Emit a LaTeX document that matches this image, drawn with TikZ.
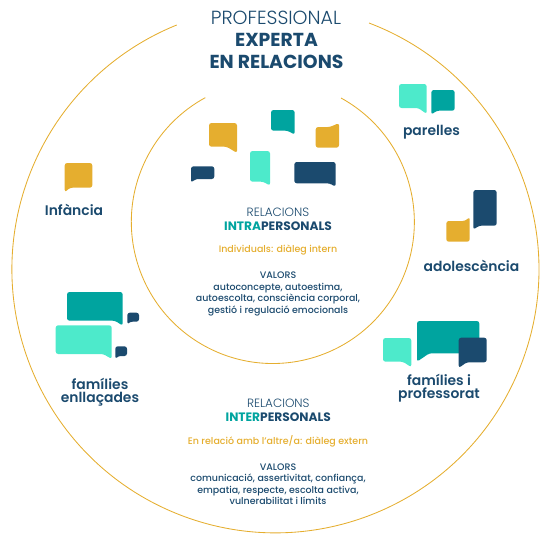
\documentclass[tikz,border=0pt]{standalone}
\usepackage{fontspec}
\setmainfont{Poppins}
\newfontfamily\lightfont{Poppins Light}
\newfontfamily\mediumfont{Poppins Medium}
\newfontfamily\semifont{Poppins SemiBold}
\definecolor{navy}{HTML}{1B4A6E}
\definecolor{teal}{HTML}{00A49F}
\definecolor{mint}{HTML}{4DEACB}
\definecolor{gold}{HTML}{E5AE2F}
\tikzset{
  ring/.style={draw=gold, line width=0.85pt},
  bubble/.style={rounded corners=2.5pt},
  titlelight/.style={text=navy, font=\lightfont\fontsize{19}{20}\selectfont},
  titlebold/.style={text=navy, font=\bfseries\fontsize{18.8}{20}\selectfont},
  grouplabel/.style={text=navy, align=center, font=\semifont\fontsize{13.9}{12.4}\selectfont},
  relhead/.style={text=navy, font=\lightfont\fontsize{12}{12}\selectfont},
  relbold/.style={text=navy, font=\bfseries\fontsize{12.2}{12}\selectfont},
  dialeg/.style={text=gold, font=\mediumfont\fontsize{9.5}{11}\selectfont},
  valors/.style={text=navy, align=center, font=\mediumfont\fontsize{9.45}{11.4}\selectfont}
}
% #1 color, #2-#5 body, #6 tail start, #7 tail tip
\newcommand{\bubbleBR}[7]{\fill[bubble, #1] (#2,#3) -- (#4,#3) -- (#4,#7) -- (#6,#5) -- (#2,#5) -- cycle;}
\newcommand{\bubbleBL}[7]{\fill[bubble, #1] (#2,#3) -- (#4,#3) -- (#4,#5) -- (#6,#5) -- (#2,#7) -- cycle;}
\newcommand{\bubbleTR}[7]{\fill[bubble, #1] (#2,#3) -- (#6,#3) -- (#4,#7) -- (#4,#5) -- (#2,#5) -- cycle;}
\begin{document}
\begin{tikzpicture}[x=1pt, y=-1pt]
    \useasboundingbox (0,0) rectangle (546,546);
    % Cercles
    \draw[ring] (369,23) arc[start angle=69.2, end angle=-248, radius=263.5pt];
    \draw[ring] (341,98) arc[start angle=61.2, end angle=-241.5, radius=141.5pt];
    % Titol
    \node[titlelight] (professional) at (276,17.7) {PROFESSIONAL};
    \node[titlebold] (experta) at (276.5,39.5) {EXPERTA};
    \node[titlebold] (enrelacions) at (276.5,61.5) {EN RELACIONS};
    % Bombolles interiors
    \bubbleBR{gold}{209}{123}{237}{146.7}{226.7}{153}
    \bubbleBR{teal}{271}{110}{294.7}{130.7}{287.7}{134.7}
    \bubbleTR{gold}{315.7}{127}{339}{147.7}{330}{123}
    \bubbleBR{mint}{250}{151}{270}{181.7}{263.3}{185.7}
    \bubbleBL{navy}{191}{166.3}{214.3}{179}{195.7}{182.7}
    \bubbleBR{navy}{294.3}{162}{335.7}{183.3}{329.3}{186.7}
    % Infancia
    \bubbleBL{gold}{64.7}{163}{92.3}{187.7}{70}{192.3}
    \node[grouplabel] (infancia) at (74,209.5) {Infància};
    % Families enllacades
    \bubbleBR{teal}{67}{292}{122.7}{320.7}{115}{325.7}
    \bubbleBL{navy}{127.3}{312.7}{139}{321.7}{130}{324.3}
    \bubbleBR{mint}{55.7}{325.3}{111.7}{354}{103.3}{359}
    \bubbleBL{navy}{115.3}{346.3}{127}{356}{118.3}{359}
    \node[grouplabel] (enllacades) at (100,392.3) {famílies\\enllaçades};
    % Parelles
    \bubbleBR{mint}{399}{84}{426.7}{108}{418.3}{114}
    \bubbleBL{teal}{431.3}{90}{454.7}{110.7}{436.7}{114.7}
    \node[grouplabel] (parelles) at (431.5,132) {parelles};
    % Adolescencia
    \bubbleBL{navy}{473.3}{190}{496.7}{225.7}{479}{229.7}
    \bubbleTR{gold}{446.3}{221}{469.7}{241.7}{465}{217}
    \node[grouplabel] (adolescencia) at (471.5,266.2) {adolescència};
    % Families i professorat
    \bubbleBR{mint}{383}{338}{411.3}{361.7}{403}{367.3}
    \bubbleBL{teal}{417}{321}{479.3}{353.3}{429.3}{361.7}
    \bubbleBL{navy}{458.7}{337.7}{486.7}{362.3}{466.7}{368}
    \node[grouplabel] (professorat) at (439,388.3) {famílies i\\professorat};
    % Relacions intrapersonals
    \node[relhead] (relintra) at (278,212.2) {RELACIONS};
    \node[relbold] (intra) at (278,226) {\textcolor{teal}{INTRA}PERSONALS};
    \node[dialeg] (intern) at (278,249.7) {Individuals: diàleg intern};
    \node[valors] (valorsintra) at (278,294) {VALORS\\autoconcepte, autoestima,\\autoescolta, consciència corporal,\\gestió i regulació emocionals};
    % Relacions interpersonals
    \node[relhead] (relinter) at (278.3,403) {RELACIONS};
    \node[relbold] (inter) at (278.3,417.3) {\textcolor{teal}{INTER}PERSONALS};
    \node[dialeg] (extern) at (278,441) {En relació amb l’altre/a: diàleg extern};
    \node[valors] (valorsinter) at (278,484.3) {VALORS\\comunicació, assertivitat, confiança,\\empatia, respecte, escolta activa,\\vulnerabilitat i límits};
\end{tikzpicture}
\end{document}
